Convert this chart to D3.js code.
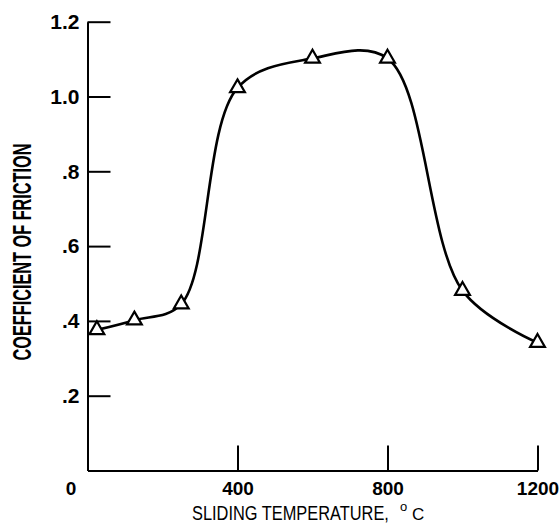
<!DOCTYPE html>
<html>
<head>
<meta charset="utf-8">
<script src="https://cdn.jsdelivr.net/npm/d3@7"></script>
<style>
  body { margin: 0; background: #fff; }
  svg { display: block; }
  .axis path, .axis line { stroke: #000; stroke-width: 2; }
  .axis text { font-family: 'Liberation Sans', Arial, sans-serif; font-weight: bold; fill: #000; }
  .title { font-family: 'Liberation Sans', Arial, sans-serif; fill: #000; }
</style>
</head>
<body>
<svg width="559" height="524"></svg>
<script>
// sliding temperature (deg C) and friction coefficient
const temps = [25, 125, 250, 400, 600, 800, 1000, 1200];
const friction = [0.376, 0.402, 0.445, 1.023, 1.102, 1.102, 0.481, 0.342];

const xTicks = [0, 400, 800, 1200];
const yTicks = [0.2, 0.4, 0.6, 0.8, 1.0, 1.2];

const points = temps.map((t, i) => ({ t, f: friction[i] }));

const svg = d3.select('svg');

const x = d3.scaleLinear().domain([0, 1200]).range([87.5, 537.5]);
const y = d3.scaleLinear().domain([0, 1.2]).range([470.5, 21.7]);

// y axis, ticks pointing in
const yAxis = svg.append('g')
  .attr('class', 'axis')
  .attr('transform', `translate(${x(0)},0)`)
  .call(
    d3.axisLeft(y)
      .tickValues(yTicks)
      .tickSizeInner(-23)
      .tickSizeOuter(0)
      .tickPadding(8)
      .tickFormat(d => d3.format('.1f')(d).replace(/^0/, ''))
  );
yAxis.selectAll('text')
  .attr('font-size', 21);

// x axis
const xAxis = svg.append('g')
  .attr('class', 'axis')
  .attr('transform', `translate(0,${y(0)})`)
  .call(
    d3.axisBottom(x)
      .tickValues(xTicks)
      .tickSizeInner(-25)
      .tickSizeOuter(0)
      .tickPadding(11)
      .tickFormat(d3.format('d'))
  );
xAxis.selectAll('text')
  .attr('font-size', 19)
  .attr('dx', d => d === 0 ? -17 : 0);

// axis titles (squeezed horizontally, the lettering is condensed)
svg.append('text')
  .attr('class', 'title')
  .attr('transform', 'translate(192,520) scale(0.78,1)')
  .attr('font-size', 21)
  .text('SLIDING TEMPERATURE,');

svg.append('text')
  .attr('class', 'title')
  .attr('x', 400)
  .attr('y', 511)
  .attr('font-size', 13)
  .text('o');

svg.append('text')
  .attr('class', 'title')
  .attr('x', 412)
  .attr('y', 520)
  .attr('font-size', 17)
  .text('C');

svg.append('text')
  .attr('transform', 'translate(31,252) rotate(-90)')
  .attr('text-anchor', 'middle')
  .attr('textLength', 217)
  .attr('lengthAdjust', 'spacingAndGlyphs')
  .attr('font-family', "'Liberation Sans', Arial, sans-serif")
  .attr('font-weight', 'bold')
  .attr('font-size', 26)
  .text('COEFFICIENT OF FRICTION');

// faired curve
const line = d3.line()
  .x(d => x(d.t))
  .y(d => y(d.f))
  .curve(d3.curveCatmullRom.alpha(0.5));

svg.append('path')
  .datum(points)
  .attr('d', line)
  .attr('fill', 'none')
  .attr('stroke', '#000')
  .attr('stroke-width', 2.6);

// open triangle markers
svg.append('g')
  .selectAll('path')
  .data(points)
  .join('path')
  .attr('transform', d => `translate(${x(d.t)},${y(d.f)})`)
  .attr('d', d3.symbol(d3.symbolTriangle, 95))
  .attr('fill', '#fff')
  .attr('stroke', '#000')
  .attr('stroke-width', 2.2);
</script>
</body>
</html>
